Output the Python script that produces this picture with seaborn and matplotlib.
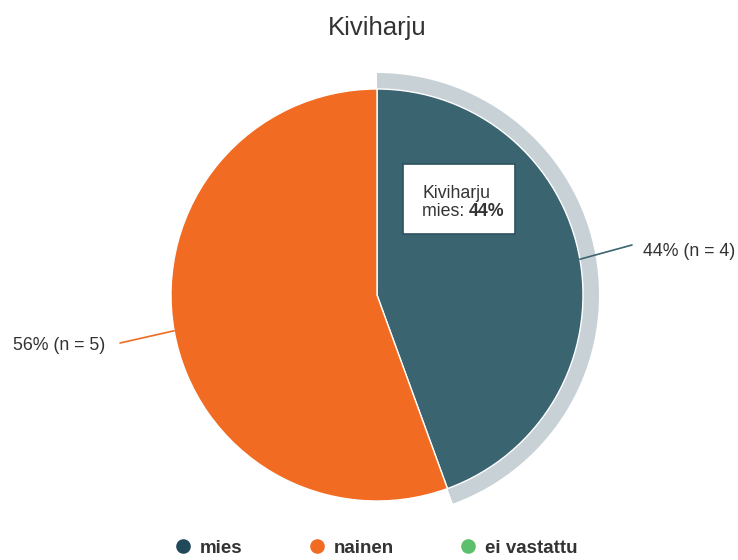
import numpy as np
import matplotlib
matplotlib.use("Agg")
import matplotlib.pyplot as plt
from matplotlib.lines import Line2D
import seaborn as sns

# ── data ─────────────────────────────────────────────
title = "Kiviharju"
categories = ["mies", "nainen", "ei vastattu"]
counts = [4, 5, 0]
percents = [44, 56, 0]
slice_colors = ["#3b6471", "#f26b22", "#5cbf6c"]
legend_colors = ["#22495a", "#f26b22", "#5cbf6c"]

sns.set_theme(style="white")
plt.rcParams["font.family"] = ["Liberation Sans", "DejaVu Sans"]

fig = plt.figure(figsize=(7.38, 5.6), dpi=100)
ax = fig.add_axes([0, 0, 1, 1])

cx, cy, r = 377, 265, 206
vals = [c for c in counts if c > 0]
cols = [slice_colors[i] for i, c in enumerate(counts) if c > 0]

# hover halo on the "mies" slice
halo_cols = ["#c8d1d6"] + ["none"] * (len(vals) - 1)
ax.pie(vals, colors=halo_cols, startangle=90, counterclock=False,
       center=(cx, cy), radius=r + 16, frame=True,
       wedgeprops=dict(width=16, linewidth=0))

wedges, _ = ax.pie(vals, colors=cols, startangle=90, counterclock=False,
                   center=(cx, cy), radius=r, frame=True,
                   wedgeprops=dict(edgecolor="white", linewidth=1))
ax.set_xlim(0, 738)
ax.set_ylim(0, 560)
ax.set_aspect("equal")
ax.axis("off")

# data labels with connectors
label_pos = [(643, 309), (13, 215)]
for w, (lx, ly), pct, n, col in zip(wedges, label_pos, percents, counts, cols):
    mid = np.deg2rad((w.theta1 + w.theta2) / 2)
    px, py = cx + r * np.cos(mid), cy + r * np.sin(mid)
    if lx > cx:
        ax.plot([px, lx - 11], [py, ly + 6], color=col, lw=1.2, zorder=3)
    else:
        ax.plot([px, lx + 107], [py, ly + 2], color=col, lw=1.2, zorder=3)
    ax.text(lx, ly, f"{pct}% (n = {n})", ha="left", va="center",
            fontsize=12.8, color="#333333")

# tooltip
ax.add_patch(plt.Rectangle((403, 326), 112, 70, facecolor="white",
                           edgecolor="#2c5260", lw=1.2, zorder=5))
ax.text(422, 367, "Kiviharju", fontsize=12.8, color="#333333", zorder=6, va="center")
t1 = ax.text(422, 349, "mies: ", fontsize=12.8, color="#333333", zorder=6, va="center")
ax.annotate(f"{percents[0]}%", xy=(1, 0.5), xycoords=t1, fontsize=12.8,
            color="#333333", fontweight="bold", zorder=6, va="center", ha="left")

fig.text(0.511, 0.95, title, ha="center", va="center", fontsize=18.5, color="#333333")

handles = [Line2D([], [], marker="o", ls="", markersize=9.5, color=c) for c in legend_colors]
fig.legend(handles, categories, loc="center", bbox_to_anchor=(0.509, 0.021),
           ncol=3, frameon=False, handlelength=1, handletextpad=0.4,
           columnspacing=3.45, borderpad=0,
           prop=dict(size=13.5, weight="bold"), labelcolor="#333333")

fig.savefig("out.png", dpi=100)
